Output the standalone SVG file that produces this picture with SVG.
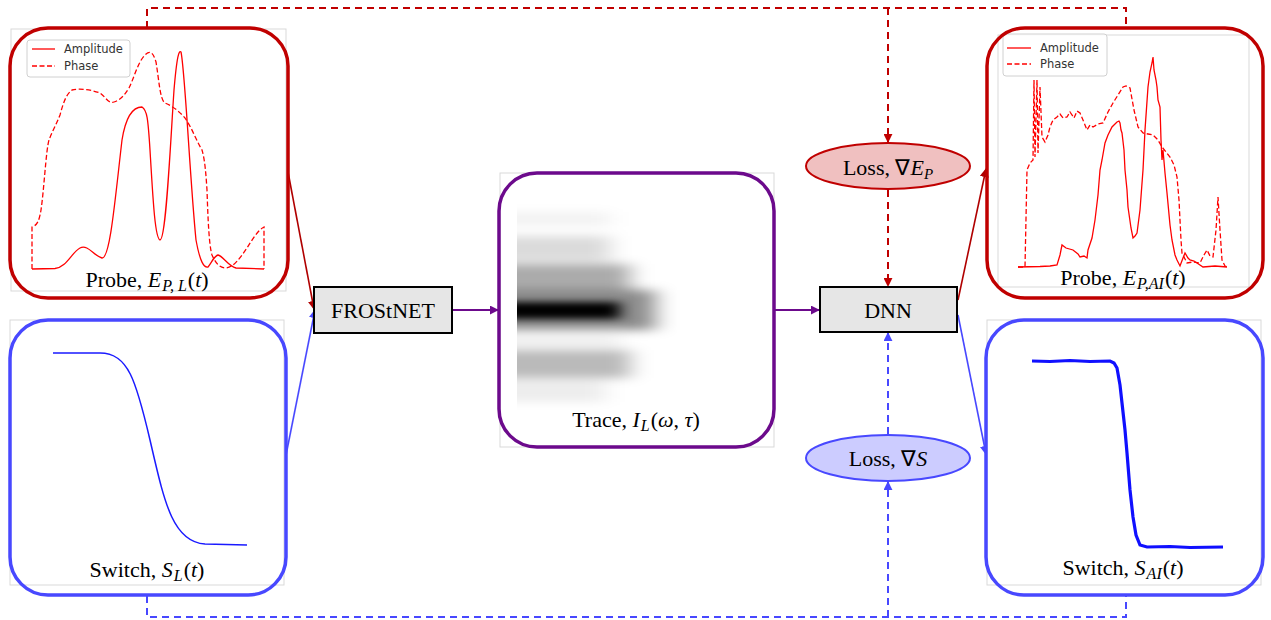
<svg xmlns="http://www.w3.org/2000/svg" width="1271" height="620" viewBox="0 0 1271 620">
<style>
.lbl{font-family:"Liberation Serif","Times New Roman",serif;font-size:22px;fill:#000}
.it{font-style:italic}
.sub{font-style:italic;font-size:16px}
.node{font-family:"Liberation Serif","Times New Roman",serif;font-size:22px;fill:#000}
.leg{font-family:"DejaVu Sans",sans-serif;font-size:11.5px;fill:#333}
.plotbg{fill:#fff;stroke:#d9d9d9;stroke-width:1}
.redbox{fill:none;stroke:#c00000;stroke-width:3.5}
.bluebox{fill:none;stroke:#4848ff;stroke-width:3.5}
.amp{fill:none;stroke:#ff0000;stroke-width:1.3}
.ph{fill:none;stroke:#ff0000;stroke-width:1.3;stroke-dasharray:5,2.5}
.c-red{fill:none;stroke:#b00000;stroke-width:1.6}
.c-blue{fill:none;stroke:#4848ff;stroke-width:1.6}
.c-pur{fill:none;stroke:#6c0a8c;stroke-width:1.8}
.d-red{fill:none;stroke:#c00000;stroke-width:2;stroke-dasharray:7,5}
.d-blue{fill:none;stroke:#4848ff;stroke-width:2;stroke-dasharray:7,5}
</style>
<defs>
<marker id="aRed" viewBox="0 0 10 10" refX="9" refY="5" markerWidth="9" markerHeight="9" markerUnits="userSpaceOnUse" orient="auto"><path d="M0,0 L10,5 L0,10 z" fill="#b00000"/></marker>
<marker id="aBlue" viewBox="0 0 10 10" refX="9" refY="5" markerWidth="9" markerHeight="9" markerUnits="userSpaceOnUse" orient="auto"><path d="M0,0 L10,5 L0,10 z" fill="#4848ff"/></marker>
<marker id="aPur" viewBox="0 0 10 10" refX="9" refY="5" markerWidth="9" markerHeight="9" markerUnits="userSpaceOnUse" orient="auto"><path d="M0,0 L10,5 L0,10 z" fill="#6c0a8c"/></marker>
<marker id="aDRed" viewBox="0 0 10 10" refX="9" refY="5" markerWidth="9" markerHeight="9" markerUnits="userSpaceOnUse" orient="auto"><path d="M0,0 L10,5 L0,10 z" fill="#c00000"/></marker>
<filter id="blur" x="-50%" y="-50%" width="200%" height="200%"><feGaussianBlur stdDeviation="11 5"/></filter>
<filter id="blur2" x="-50%" y="-50%" width="200%" height="200%"><feGaussianBlur stdDeviation="8 3.5"/></filter>
<clipPath id="traceClip"><rect x="517" y="200" width="200" height="210"/></clipPath>
</defs>

<g id="connectors">
<path class="d-red" d="M147,28 V8 H1126 V28"/>
<path class="d-red" d="M888,8 V142" marker-end="url(#aDRed)"/>
<path class="d-red" d="M888,190 V286" marker-end="url(#aDRed)"/>
<path class="d-blue" d="M147,596 V617 H1126 V596"/>
<path class="d-blue" d="M888,617 V482" marker-end="url(#aBlue)"/>
<path class="d-blue" d="M888,434 V333" marker-end="url(#aBlue)"/>
<path class="c-red" d="M288,172 L314,309" marker-end="url(#aRed)"/>
<path class="c-blue" d="M286,455 L315,310" marker-end="url(#aBlue)"/>
<path class="c-pur" d="M452,310 H498" marker-end="url(#aPur)"/>
<path class="c-pur" d="M774,310 H819" marker-end="url(#aPur)"/>
<path class="c-red" d="M958,300 L986,169" marker-end="url(#aRed)"/>
<path class="c-blue" d="M958,315 L986,454" marker-end="url(#aBlue)"/>
</g>

<g id="probe-L">
<rect class="plotbg" x="11" y="29" width="275" height="262"/>
<path class="amp" d="M32,269 L55,268.5 C66,268 72,252 80,248 C88,244 94,256 102,258 C110,259 115,200 122,140 C126,115 134,107 142,107 C147,110 148,118 150,150 C153,200 155,238 160,240 C166,240 170,150 174,90 C177,55 179,50 181,52 C185,70 190,180 196,240 C200,262 204,268 208,267 C212,262 214,256 218,255 C223,256 228,266 236,268 L264,269"/>
<path class="ph" d="M32,269 V227 C37,225 39,222 41,210 C44,190 46,150 49,140 C52,132 56,125 60,115 C63,104 66,94 72,90 C80,88 92,90 100,93 C106,97 108,104 114,102 C120,100 124,96 129,88 C134,78 138,62 145,55 C150,50 153,52 156,62 C159,80 160,100 165,103 C172,106 178,110 185,118 C192,128 196,140 202,150 C205,160 206,175 207,190 C208,220 209,245 212,255 C216,264 220,268 226,268 C234,267 240,258 247,248 C252,240 258,230 264,227 V269"/>
<rect x="27" y="40" width="103" height="37" rx="3" fill="#fff" fill-opacity="0.85" stroke="#d0d0d0" stroke-width="1"/>
<line x1="32" y1="49" x2="55" y2="49" class="amp"/>
<line x1="32" y1="66" x2="55" y2="66" class="ph"/>
<text class="leg" x="64" y="53">Amplitude</text>
<text class="leg" x="64" y="70">Phase</text>
<rect class="redbox" x="10" y="28" width="278" height="270" rx="38"/>
<text class="lbl" x="147" y="287" text-anchor="middle">Probe, <tspan class="it">E</tspan><tspan class="sub" dx="1" dy="4">P, L</tspan><tspan dx="1" dy="-4">(</tspan><tspan class="it">t</tspan>)</text>
</g>

<g id="switch-L">
<rect class="plotbg" x="10" y="320" width="274" height="265"/>
<path d="M53,353 L100,353 C128,353 136,380 150,440 C164,500 172,542 205,544 L247,545" fill="none" stroke="#1a1aff" stroke-width="1.5"/>
<rect class="bluebox" x="10" y="320" width="276" height="275" rx="38"/>
<text class="lbl" x="147" y="577" text-anchor="middle">Switch, <tspan class="it">S</tspan><tspan class="sub" dx="1" dy="4">L</tspan><tspan dx="1" dy="-4">(</tspan><tspan class="it">t</tspan>)</text>
</g>

<g id="frostnet">
<rect x="314" y="287" width="138" height="46" fill="#e6e6e6" stroke="#000" stroke-width="2"/>
<text class="node" x="383" y="318" text-anchor="middle" font-size="23">FROStNET</text>
</g>

<g id="trace">
<rect class="plotbg" x="500" y="173" width="274" height="274"/>
<g clip-path="url(#traceClip)">
<g filter="url(#blur)">
<rect x="480" y="212" width="130" height="14" fill="#000" opacity="0.05"/>
<rect x="480" y="236" width="130" height="25" fill="#000" opacity="0.14"/>
<rect x="480" y="264" width="150" height="27" fill="#000" opacity="0.33"/>
<rect x="480" y="290" width="175" height="40" fill="#000" opacity="0.45"/>
<rect x="480" y="336" width="140" height="10" fill="#000" opacity="0.07"/>
<rect x="480" y="350" width="150" height="28" fill="#000" opacity="0.27"/>
<rect x="480" y="380" width="125" height="22" fill="#000" opacity="0.07"/>
</g>
<g filter="url(#blur2)">
<rect x="480" y="302" width="140" height="17" fill="#000"/>
</g>
</g>
<rect x="499" y="173" width="275" height="274" rx="38" fill="none" stroke="#6c0a8c" stroke-width="3.5"/>
<text class="lbl" x="636" y="427" text-anchor="middle">Trace, <tspan class="it">I</tspan><tspan class="sub" dx="1" dy="4">L</tspan><tspan dx="1" dy="-4">(</tspan><tspan class="it">ω</tspan>, <tspan class="it">τ</tspan>)</text>
</g>

<g id="dnn">
<rect x="820" y="287" width="137" height="45" fill="#e6e6e6" stroke="#000" stroke-width="2"/>
<text class="node" x="888" y="318" text-anchor="middle">DNN</text>
</g>

<g id="loss-E">
<ellipse cx="888" cy="166" rx="82" ry="23" fill="#f0c0c0" stroke="#c00000" stroke-width="2"/>
<text class="node" x="888" y="175" text-anchor="middle" font-size="21">Loss, ∇<tspan class="it">E</tspan><tspan class="it" font-size="15" dy="4">P</tspan></text>
</g>

<g id="loss-S">
<ellipse cx="888" cy="458" rx="82" ry="23" fill="#ccccff" stroke="#4848ff" stroke-width="2"/>
<text class="node" x="888" y="466" text-anchor="middle" font-size="21">Loss, ∇<tspan class="it">S</tspan></text>
</g>

<g id="probe-AI">
<rect class="plotbg" x="998" y="35" width="251" height="252"/>
<path class="amp" d="M1018,267 L1040,266.5 L1050,266 L1057,265 L1060,255 L1062,245 L1066,248 L1073,250 L1078,254 L1080,257 L1084,256 L1087,258 L1088,250 L1092,238 L1095,220 L1098,195 L1100,170 L1102,160 L1105,143 L1108,135 L1112,127 L1115,124 L1117,122 L1119,121 L1120,123 L1121,130 L1122,133 L1124,150 L1125,170 L1127,190 L1128,207 L1131,228 L1133,238 L1135,236 L1137,233 L1140,210 L1143,170 L1145,130 L1148,87 L1150,72 L1152,63 L1153,57 L1154,70 L1156,80 L1157,87 L1158,100 L1160,107 L1161,140 L1162,160 L1163,150 L1165,173 L1167,193 L1170,225 L1172,240 L1175,255 L1177,260 L1180,266 L1183,258 L1185,253 L1188,258 L1190,260 L1194,261 L1197,263 L1203,267 L1215,266 L1227,267"/>
<path class="ph" d="M1018,267 L1025,267 L1027,170 L1030,163 L1033,160 L1034,80 L1035,157 L1037,80 L1038,153 L1040,87 L1042,137 L1045,142 L1048,135 L1050,127 L1053,120 L1057,117 L1060,114 L1063,118 L1067,117 L1070,112 L1074,118 L1077,111 L1080,113 L1083,120 L1087,130 L1090,125 L1093,127 L1098,124 L1103,123 L1108,112 L1113,103 L1118,95 L1123,87 L1126,86 L1130,88 L1134,110 L1138,127 L1143,133 L1148,134 L1153,135 L1158,140 L1162,147 L1166,152 L1170,157 L1174,165 L1177,177 L1179,200 L1180,220 L1181,240 L1182,253 L1185,259 L1187,263 L1193,262 L1200,263 L1204,255 L1207,250 L1210,256 L1213,257 L1216,230 L1218,197 L1220,230 L1222,260 L1225,266 L1228,267"/>
<rect x="1003" y="34" width="104" height="42" rx="3" fill="#fff" fill-opacity="0.85" stroke="#d0d0d0" stroke-width="1"/>
<line x1="1007" y1="48" x2="1031" y2="48" class="amp"/>
<line x1="1007" y1="64" x2="1031" y2="64" class="ph"/>
<text class="leg" x="1040" y="52">Amplitude</text>
<text class="leg" x="1040" y="68">Phase</text>
<rect class="redbox" x="987" y="28" width="276" height="270" rx="38"/>
<text class="lbl" x="1123" y="285" text-anchor="middle">Probe, <tspan class="it">E</tspan><tspan class="sub" dx="1" dy="4">P,AI</tspan><tspan dx="1" dy="-4">(</tspan><tspan class="it">t</tspan>)</text>
</g>

<g id="switch-AI">
<rect class="plotbg" x="987" y="320" width="274" height="265"/>
<path d="M1032,361 L1050,361.5 L1070,360.5 L1090,361.5 L1110,361 L1114,363 L1117,368 L1120,385 L1122,403 L1125,430 L1127,453 L1130,490 L1133,517 L1136,535 L1140,545 L1147,547 L1170,546.5 L1190,547.5 L1223,547" fill="none" stroke="#1010ff" stroke-width="3.2"/>
<rect class="bluebox" x="986" y="320" width="277" height="275" rx="38"/>
<text class="lbl" x="1123" y="575" text-anchor="middle">Switch, <tspan class="it">S</tspan><tspan class="sub" dx="1" dy="4">AI</tspan><tspan dx="1" dy="-4">(</tspan><tspan class="it">t</tspan>)</text>
</g>
</svg>
